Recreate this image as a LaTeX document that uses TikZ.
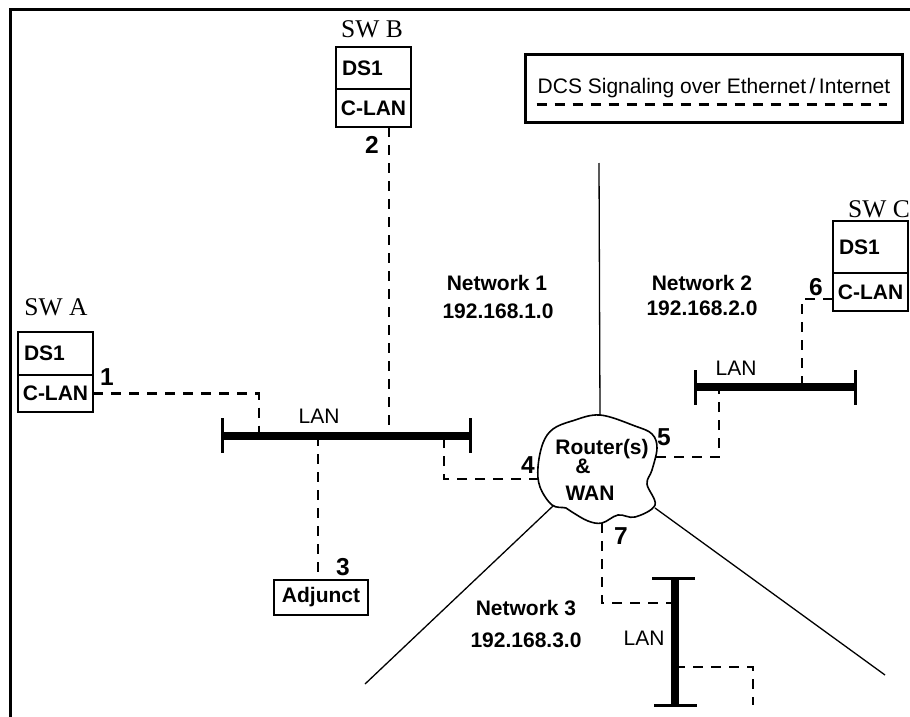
\documentclass[tikz,border=0pt]{standalone}
\usepackage{fontspec}
\setmainfont{Liberation Sans}
\newfontfamily\swserif{Liberation Serif}
\usetikzlibrary{positioning,calc}
\definecolor{ink}{HTML}{000000}
\newcommand{\lblbold}{\fontsize{21}{25}\selectfont\bfseries}
\newcommand{\lblplain}{\fontsize{21}{25}\selectfont}
\newcommand{\lblnum}{\fontsize{24.5}{28}\selectfont\bfseries}
\newcommand{\lblsw}{\fontsize{25.5}{29}\selectfont\swserif}
\tikzset{
  frame/.style={draw=ink, line width=3pt},
  signal/.style={draw=ink, line width=2.2pt, dash pattern=on 10pt off 8pt},
  bus/.style={draw=ink, line width=8pt},
  bustick/.style={draw=ink, line width=3pt},
  netline/.style={draw=ink, line width=1.3pt},
  cloudline/.style={draw=ink, line width=1.6pt},
  legendbox/.style={draw=ink, line width=3pt, inner sep=0pt},
  cardtop/.style={draw=ink, line width=2.2pt, outer sep=0pt, inner xsep=6pt, inner ysep=0pt,
                  text width=63pt, align=left, font=\lblbold, text=ink},
  cardbot/.style={draw=ink, line width=2.2pt, outer sep=0pt, inner sep=0pt,
                  minimum width=75pt, font=\lblbold, text=ink},
  boxlabel/.style={draw=ink, line width=2.2pt, inner sep=0pt, font=\lblbold, text=ink},
  swname/.style={font=\lblsw, text=ink, anchor=base},
  portnum/.style={font=\lblnum, text=ink, anchor=base},
  netname/.style={font=\lblbold, text=ink, anchor=base},
  lanname/.style={font=\lblplain, text=ink, anchor=base},
  plaintext/.style={font=\lblplain, text=ink, anchor=base},
}

\begin{document}
\begin{tikzpicture}[x=1pt,y=-1pt]
\useasboundingbox (0,0) rectangle (910,717);

% -----------------------------------------------------------------------------
% frame and legend
% -----------------------------------------------------------------------------
\draw[frame] (910,10) -- (10,10) -- (10,717);

\node[legendbox, minimum width=377pt, minimum height=67pt] (legend) at (713.5,88.5) {};
\node[plaintext] (legendtext) at (714,93) {DCS Signaling over Ethernet\thinspace/\thinspace Internet};
\draw[signal] ($(legend.south west)+(13,-19)$) -- ($(legend.south east)+(-17,-19)$);

% -----------------------------------------------------------------------------
% switches
% -----------------------------------------------------------------------------
\node[swname] (swaname) at (56,315) {SW A};
\node[cardtop, minimum height=43pt, anchor=north west] (swads1) at (18,332) {DS1};
\node[cardbot, minimum height=37pt, below=0pt of swads1] (swaclan) {C-LAN};

\node[swname] (swbname) at (372,38) {SW B};
\node[cardtop, minimum height=42pt, anchor=north west] (swbds1) at (336,47) {DS1};
\node[cardbot, minimum height=38pt, below=0pt of swbds1] (swbclan) {C-LAN};

\node[swname] (swcname) at (879,217) {SW C};
\node[cardtop, minimum height=52pt, anchor=north west] (swcds1) at (833,221) {DS1};
\node[cardbot, minimum height=38pt, below=0pt of swcds1] (swcclan) {C-LAN};

\node[boxlabel, minimum width=94pt, minimum height=35pt] (adjunct) at (321,597.5) {Adjunct};

% -----------------------------------------------------------------------------
% router cloud and network borders
% -----------------------------------------------------------------------------
\draw[cloudline] plot[smooth cycle, tension=0.6] coordinates {
  (600,415) (572,421) (553,429) (543,443) (538,467) (540,487) (552,505) (566,508)
  (572,512) (588,521) (602,523) (618,515) (635,517) (655,505) (647,484) (652,470)
  (657,448) (652,434) (635,426)};
\coordinate (rtop) at (600,415);
\coordinate (rsw) at (553,506);
\coordinate (rse) at (655,508);
\coordinate (r4) at (539,479);
\coordinate (r5) at (656,457);
\coordinate (r7) at (602,523);
\node[netname] (routera) at (602,454) {Router(s)};
\node[netname] (routerb) at (583,473) {\&};
\node[netname] (routerc) at (590,500) {WAN};

\coordinate (net12top) at (599,163);
\coordinate (net3w) at (365,684);
\coordinate (net3e) at (885,675);
\draw[netline] (net12top) -- (rtop);
\draw[netline] (rsw) -- (net3w);
\draw[netline] (rse) -- (net3e);

\node[netname] (net1name) at (497,290) {Network 1};
\node[netname] (net1addr) at (498,318) {192.168.1.0};
\node[netname] (net2name) at (702,290) {Network 2};
\node[netname] (net2addr) at (702,315) {192.168.2.0};
\node[netname] (net3name) at (526,615) {Network 3};
\node[netname] (net3addr) at (526,647) {192.168.3.0};

% -----------------------------------------------------------------------------
% LAN segments
% -----------------------------------------------------------------------------
\coordinate (lan1w) at (222,436);
\coordinate (lan1e) at (470,436);
\coordinate (tap1) at (259,436);
\coordinate (tap2) at (389,436);
\coordinate (tap3) at (318,436);
\coordinate (tap4) at (444,436);

\coordinate (lan2w) at (695,387);
\coordinate (lan2e) at (855,387);
\coordinate (tap5) at (719,387);
\coordinate (tap6) at (802,387);

\coordinate (lan3n) at (675,578);
\coordinate (lan3s) at (675,705);
\coordinate (tap7) at (675,603);
\coordinate (tap8) at (675,667);
\coordinate (lan3out) at (753,705);

% signaling links
\draw[signal] (swaclan.east) -| (tap1);
\draw[signal] (tap2 |- swbclan.south) -- (tap2);
\draw[signal] (tap3) -- (tap3 |- adjunct.north);
\draw[signal] (r4) -| (tap4);
\draw[signal] (r5) -| (tap5);
\draw[signal] ([yshift=-7pt]swcclan.west) -| (tap6);
\draw[signal] (r7) |- (tap7);
\draw[signal] (tap8) -| (lan3out);

% bus bars
\draw[bus] (lan1w) -- (lan1e);
\draw[bustick] ($(lan1w)+(0,-18)$) -- ($(lan1w)+(0,17)$);
\draw[bustick] ($(lan1e)+(0,-18)$) -- ($(lan1e)+(0,17)$);
\node[lanname] (lan1name) at (319,423) {LAN};

\draw[bus] (lan2w) -- (lan2e);
\draw[bustick] ($(lan2w)+(0,-17)$) -- ($(lan2w)+(0,18)$);
\draw[bustick] ($(lan2e)+(0,-17)$) -- ($(lan2e)+(0,18)$);
\node[lanname] (lan2name) at (736,375) {LAN};

\draw[bus] (lan3n) -- (lan3s);
\draw[bustick] ($(lan3n)+(-23,0)$) -- ($(lan3n)+(20,0)$);
\draw[bustick] ($(lan3s)+(-21,0)$) -- ($(lan3s)+(22,0)$);
\node[lanname] (lan3name) at (644,645) {LAN};

% port numbers
\node[portnum] (p1) at (107,385) {1};
\node[portnum] (p2) at (372,153) {2};
\node[portnum] (p3) at (343,575) {3};
\node[portnum] (p4) at (528,473) {4};
\node[portnum] (p5) at (664,445) {5};
\node[portnum] (p6) at (816,295) {6};
\node[portnum] (p7) at (621,544) {7};

\end{tikzpicture}
\end{document}
